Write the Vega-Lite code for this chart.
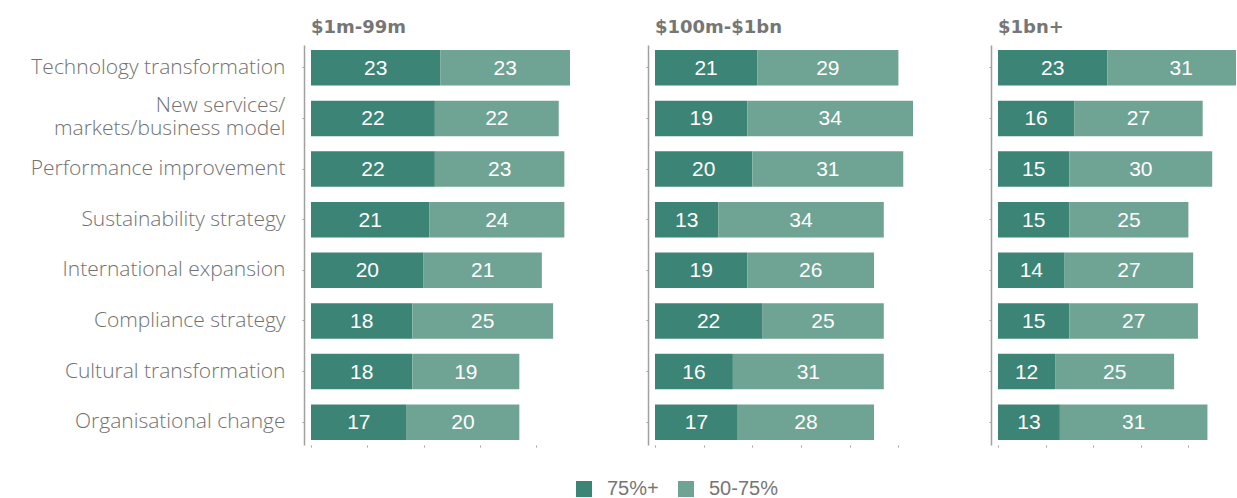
{
  "$schema": "https://vega.github.io/schema/vega-lite/v6.json",
  "padding": {"left": 30, "top": 19, "right": 0, "bottom": 0},
  "background": "white",
  "datasets": {
    "survey": [
      {"size": "$1m-99m", "category": "Technology transformation", "level": "75%+", "ord": 1, "value": 23},
      {"size": "$1m-99m", "category": "Technology transformation", "level": "50-75%", "ord": 2, "value": 23},
      {"size": "$1m-99m", "category": "New services/markets/business model", "level": "75%+", "ord": 1, "value": 22},
      {"size": "$1m-99m", "category": "New services/markets/business model", "level": "50-75%", "ord": 2, "value": 22},
      {"size": "$1m-99m", "category": "Performance improvement", "level": "75%+", "ord": 1, "value": 22},
      {"size": "$1m-99m", "category": "Performance improvement", "level": "50-75%", "ord": 2, "value": 23},
      {"size": "$1m-99m", "category": "Sustainability strategy", "level": "75%+", "ord": 1, "value": 21},
      {"size": "$1m-99m", "category": "Sustainability strategy", "level": "50-75%", "ord": 2, "value": 24},
      {"size": "$1m-99m", "category": "International expansion", "level": "75%+", "ord": 1, "value": 20},
      {"size": "$1m-99m", "category": "International expansion", "level": "50-75%", "ord": 2, "value": 21},
      {"size": "$1m-99m", "category": "Compliance strategy", "level": "75%+", "ord": 1, "value": 18},
      {"size": "$1m-99m", "category": "Compliance strategy", "level": "50-75%", "ord": 2, "value": 25},
      {"size": "$1m-99m", "category": "Cultural transformation", "level": "75%+", "ord": 1, "value": 18},
      {"size": "$1m-99m", "category": "Cultural transformation", "level": "50-75%", "ord": 2, "value": 19},
      {"size": "$1m-99m", "category": "Organisational change", "level": "75%+", "ord": 1, "value": 17},
      {"size": "$1m-99m", "category": "Organisational change", "level": "50-75%", "ord": 2, "value": 20},

      {"size": "$100m-$1bn", "category": "Technology transformation", "level": "75%+", "ord": 1, "value": 21},
      {"size": "$100m-$1bn", "category": "Technology transformation", "level": "50-75%", "ord": 2, "value": 29},
      {"size": "$100m-$1bn", "category": "New services/markets/business model", "level": "75%+", "ord": 1, "value": 19},
      {"size": "$100m-$1bn", "category": "New services/markets/business model", "level": "50-75%", "ord": 2, "value": 34},
      {"size": "$100m-$1bn", "category": "Performance improvement", "level": "75%+", "ord": 1, "value": 20},
      {"size": "$100m-$1bn", "category": "Performance improvement", "level": "50-75%", "ord": 2, "value": 31},
      {"size": "$100m-$1bn", "category": "Sustainability strategy", "level": "75%+", "ord": 1, "value": 13},
      {"size": "$100m-$1bn", "category": "Sustainability strategy", "level": "50-75%", "ord": 2, "value": 34},
      {"size": "$100m-$1bn", "category": "International expansion", "level": "75%+", "ord": 1, "value": 19},
      {"size": "$100m-$1bn", "category": "International expansion", "level": "50-75%", "ord": 2, "value": 26},
      {"size": "$100m-$1bn", "category": "Compliance strategy", "level": "75%+", "ord": 1, "value": 22},
      {"size": "$100m-$1bn", "category": "Compliance strategy", "level": "50-75%", "ord": 2, "value": 25},
      {"size": "$100m-$1bn", "category": "Cultural transformation", "level": "75%+", "ord": 1, "value": 16},
      {"size": "$100m-$1bn", "category": "Cultural transformation", "level": "50-75%", "ord": 2, "value": 31},
      {"size": "$100m-$1bn", "category": "Organisational change", "level": "75%+", "ord": 1, "value": 17},
      {"size": "$100m-$1bn", "category": "Organisational change", "level": "50-75%", "ord": 2, "value": 28},

      {"size": "$1bn+", "category": "Technology transformation", "level": "75%+", "ord": 1, "value": 23},
      {"size": "$1bn+", "category": "Technology transformation", "level": "50-75%", "ord": 2, "value": 31},
      {"size": "$1bn+", "category": "New services/markets/business model", "level": "75%+", "ord": 1, "value": 16},
      {"size": "$1bn+", "category": "New services/markets/business model", "level": "50-75%", "ord": 2, "value": 27},
      {"size": "$1bn+", "category": "Performance improvement", "level": "75%+", "ord": 1, "value": 15},
      {"size": "$1bn+", "category": "Performance improvement", "level": "50-75%", "ord": 2, "value": 30},
      {"size": "$1bn+", "category": "Sustainability strategy", "level": "75%+", "ord": 1, "value": 15},
      {"size": "$1bn+", "category": "Sustainability strategy", "level": "50-75%", "ord": 2, "value": 25},
      {"size": "$1bn+", "category": "International expansion", "level": "75%+", "ord": 1, "value": 14},
      {"size": "$1bn+", "category": "International expansion", "level": "50-75%", "ord": 2, "value": 27},
      {"size": "$1bn+", "category": "Compliance strategy", "level": "75%+", "ord": 1, "value": 15},
      {"size": "$1bn+", "category": "Compliance strategy", "level": "50-75%", "ord": 2, "value": 27},
      {"size": "$1bn+", "category": "Cultural transformation", "level": "75%+", "ord": 1, "value": 12},
      {"size": "$1bn+", "category": "Cultural transformation", "level": "50-75%", "ord": 2, "value": 25},
      {"size": "$1bn+", "category": "Organisational change", "level": "75%+", "ord": 1, "value": 13},
      {"size": "$1bn+", "category": "Organisational change", "level": "50-75%", "ord": 2, "value": 31}
    ]
  },
  "data": {"name": "survey"},
  "bounds": "flush",
  "spacing": 85,
  "hconcat": [
    {
      "width": 259,
      "height": 400,
      "title": {"text": "$1m-99m"},
      "transform": [
        {"filter": "datum.size == '$1m-99m'"},
        {"stack": "value", "groupby": ["category"], "sort": [{"field": "ord"}], "as": ["x0", "x1"]}
      ],
      "layer": [
        {
          "mark": {"type": "bar"},
          "encoding": {
            "y": {"field": "category", "type": "nominal", "sort": null,
                  "scale": {"paddingInner": 0.3, "paddingOuter": 0.1},
                  "axis": {"labels": true,
                           "labelExpr": "datum.label == 'New services/markets/business model' ? ['New services/', 'markets/business model'] : datum.label",
                           "labelOffset": {"condition": {"test": "datum.value == 'New services/markets/business model'", "value": -12}, "value": 0}}},
            "x": {"field": "x0", "type": "quantitative", "scale": {"domain": [0, 46], "nice": false, "zero": true},
                  "axis": {"values": [0, 10, 20, 30, 40]}},
            "x2": {"field": "x1"},
            "color": {"field": "level", "type": "nominal",
                      "scale": {"domain": ["75%+", "50-75%"], "range": ["#3c8475", "#6fa394"]},
                      "legend": {"orient": "none", "direction": "horizontal", "legendX": 263, "legendY": 434}}
          }
        },
        {
          "transform": [{"fold": ["x0", "x1"], "as": ["edge", "pos"]}],
          "mark": {"type": "text", "color": "white", "fontSize": 21, "font": "Liberation Sans", "align": "center", "baseline": "middle", "dy": 1},
          "encoding": {
            "y": {"field": "category", "type": "nominal", "sort": null},
            "x": {"aggregate": "mean", "field": "pos", "type": "quantitative"},
            "detail": {"field": "level"},
            "text": {"field": "value", "type": "quantitative"}
          }
        }
      ]
    },
    {
      "width": 258,
      "height": 400,
      "title": {"text": "$100m-$1bn"},
      "transform": [
        {"filter": "datum.size == '$100m-$1bn'"},
        {"stack": "value", "groupby": ["category"], "sort": [{"field": "ord"}], "as": ["x0", "x1"]}
      ],
      "layer": [
        {
          "mark": {"type": "bar"},
          "encoding": {
            "y": {"field": "category", "type": "nominal", "sort": null,
                  "scale": {"paddingInner": 0.3, "paddingOuter": 0.1},
                  "axis": {"labels": false}},
            "x": {"field": "x0", "type": "quantitative", "scale": {"domain": [0, 53], "nice": false, "zero": true},
                  "axis": {"values": [0, 10, 20, 30, 40, 50]}},
            "x2": {"field": "x1"},
            "color": {"field": "level", "type": "nominal",
                      "scale": {"domain": ["75%+", "50-75%"], "range": ["#3c8475", "#6fa394"]}}
          }
        },
        {
          "transform": [{"fold": ["x0", "x1"], "as": ["edge", "pos"]}],
          "mark": {"type": "text", "color": "white", "fontSize": 21, "font": "Liberation Sans", "align": "center", "baseline": "middle", "dy": 1},
          "encoding": {
            "y": {"field": "category", "type": "nominal", "sort": null},
            "x": {"aggregate": "mean", "field": "pos", "type": "quantitative"},
            "detail": {"field": "level"},
            "text": {"field": "value", "type": "quantitative"}
          }
        }
      ]
    },
    {
      "width": 238,
      "height": 400,
      "title": {"text": "$1bn+"},
      "transform": [
        {"filter": "datum.size == '$1bn+'"},
        {"stack": "value", "groupby": ["category"], "sort": [{"field": "ord"}], "as": ["x0", "x1"]}
      ],
      "layer": [
        {
          "mark": {"type": "bar", "clip": true},
          "encoding": {
            "y": {"field": "category", "type": "nominal", "sort": null,
                  "scale": {"paddingInner": 0.3, "paddingOuter": 0.1},
                  "axis": {"labels": false}},
            "x": {"field": "x0", "type": "quantitative", "scale": {"domain": [0, 50], "nice": false, "zero": true},
                  "axis": {"values": [0, 10, 20, 30, 40]}},
            "x2": {"field": "x1"},
            "color": {"field": "level", "type": "nominal",
                      "scale": {"domain": ["75%+", "50-75%"], "range": ["#3c8475", "#6fa394"]}}
          }
        },
        {
          "transform": [{"fold": ["x0", "x1"], "as": ["edge", "pos"]}],
          "mark": {"type": "text", "color": "white", "fontSize": 21, "font": "Liberation Sans", "align": "center", "baseline": "middle", "dy": 1},
          "encoding": {
            "y": {"field": "category", "type": "nominal", "sort": null},
            "x": {"aggregate": "mean", "field": "pos", "type": "quantitative"},
            "detail": {"field": "level"},
            "text": {"field": "value", "type": "quantitative"}
          }
        }
      ]
    }
  ],
  "config": {
    "view": {"stroke": null},
    "title": {"anchor": "start", "fontSize": 18, "fontWeight": "bold", "font": "DejaVu Sans", "color": "#767676", "baseline": "alphabetic", "offset": 8, "frame": "group"},
    "axisY": {"title": null, "offset": 7, "domain": true, "domainColor": "#a0a0a0", "domainWidth": 1.5, "ticks": true, "tickSize": 2, "tickColor": "#a0a0a0", "labelPadding": 17, "labelFontSize": 21, "labelFont": "Open Sans", "labelFontWeight": 300, "labelColor": "#727272", "labelLimit": 400, "labelLineHeight": 23, "grid": false},
    "axisX": {"title": null, "domain": false, "labels": false, "ticks": true, "tickSize": 2, "tickColor": "#a0a0a0", "grid": false},
    "legend": {"title": null, "symbolType": "square", "symbolSize": 256, "symbolStrokeWidth": 0, "symbolOpacity": 1, "labelFontSize": 20, "labelFont": "Liberation Sans", "labelColor": "#767676", "labelOffset": 13, "columnPadding": 17, "padding": 0}
  }
}
